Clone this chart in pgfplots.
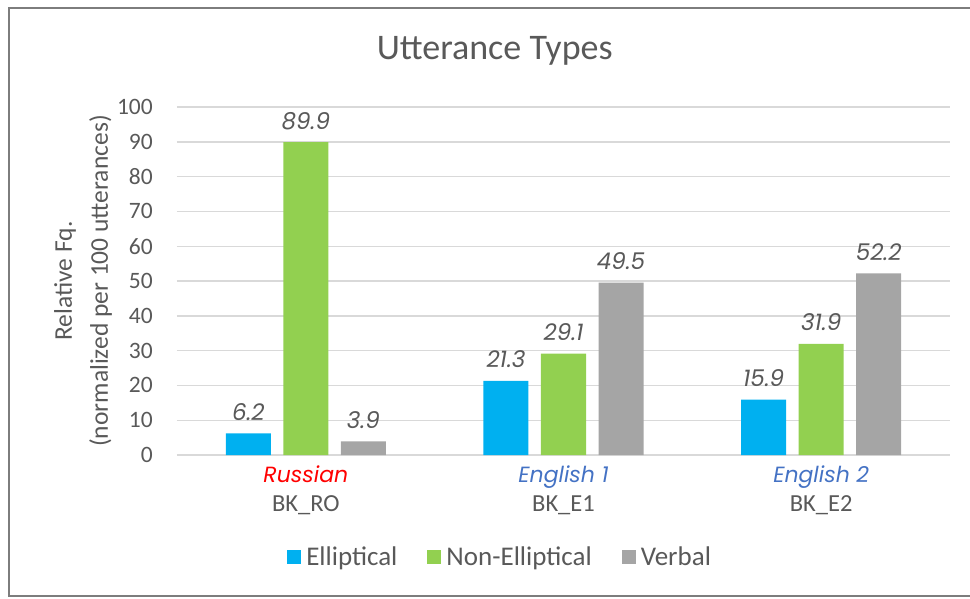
\documentclass[border=0pt]{standalone}
\usepackage{pgfplots}
\pgfplotsset{compat=1.18}
\usepackage{fontspec}
\setmainfont{Carlito}
\newfontfamily\valfont{Poppins}
\definecolor{cblue}{RGB}{0,176,240}
\definecolor{cgreen}{RGB}{146,208,80}
\definecolor{cgray}{RGB}{165,165,165}
\definecolor{txt}{RGB}{89,89,89}
\definecolor{gridc}{RGB}{217,217,217}
\definecolor{engblue}{RGB}{68,114,196}
\pgfplotsset{sqlegend/.style={legend image code/.code={\fill[##1] (0pt,-7pt) rectangle (14pt,7pt);}}}
\begin{document}
\begin{tikzpicture}
\useasboundingbox (-177pt,-143pt) rectangle (793pt,455pt);
\draw[line width=1.6pt, color={rgb,255:red,125;green,125;blue,125}] (798pt,447pt) -- (-168pt,447pt) -- (-168pt,-141pt) -- (798pt,-141pt);
\begin{axis}[
  at={(0pt,0pt)}, anchor=south west,
  scale only axis, width=773pt, height=348pt,
  xmin=-0.5, xmax=2.5, ymin=0, ymax=100,
  ytick={0,10,...,100},
  xtick={0,1,2},
  xticklabels={{\textcolor{red}{\itshape\valfont\fontsize{22}{29}\selectfont Russian}\\BK\_RO},{\textcolor{engblue}{\itshape\valfont\fontsize{22}{29}\selectfont English 1}\\BK\_E1},{\textcolor{engblue}{\itshape\valfont\fontsize{22}{29}\selectfont English 2}\\BK\_E2}},
  xticklabel style={align=center, inner sep=0pt, yshift=-11pt, font=\fontsize{24.5}{29}\selectfont, text=txt},
  yticklabel style={inner sep=0pt, xshift=-24pt, font=\fontsize{23.5}{27}\selectfont, text=txt},
  /pgf/number format/assume math mode=true,
  major tick length=0pt,
  axis x line=bottom, axis y line=left,
  x axis line style={draw=gridc, line width=1.6pt, -},
  y axis line style={draw=none},
  ymajorgrids, grid style={draw=gridc, line width=1.4pt},
  ybar=12.5pt, bar width=45pt,
  ylabel={Relative Fq.\\(normalized per 100 utterances)},
  ylabel style={align=center, font=\fontsize{25.5}{36}\selectfont, text=txt, anchor=center},
  every axis y label/.append style={at={(axis description cs:-0.1215,0.5)}},
  title={Utterance Types},
  title style={at={(axis description cs:0.411,1)}, anchor=center, yshift=50pt, font=\fontsize{36}{40}\selectfont, text=txt},
  nodes near coords={\pgfmathprintnumber[fixed,fixed zerofill,precision=1]{\pgfplotspointmeta}},
  every node near coord/.append style={font=\valfont\itshape\fontsize{23}{26}\selectfont, text=txt, anchor=base, yshift=13pt, inner sep=0pt},
  legend columns=3,
  legend style={at={(axis description cs:0.418,0)}, anchor=center, yshift=-102pt, draw=none, fill=none, font=\fontsize{27}{30}\selectfont, text=txt, /tikz/every even column/.append style={column sep=28pt}, /tikz/every odd column/.append style={column sep=3pt}},
  clip=false,
]
\addplot[fill=cblue, draw=none, sqlegend] coordinates {(0,6.2) (1,21.3) (2,15.9)};
\addplot[fill=cgreen, draw=none, sqlegend] coordinates {(0,89.9) (1,29.1) (2,31.9)};
\addplot[fill=cgray, draw=none, sqlegend] coordinates {(0,3.9) (1,49.5) (2,52.2)};
\legend{Elliptical, Non-Elliptical, Verbal}
\end{axis}
\end{tikzpicture}
\end{document}
